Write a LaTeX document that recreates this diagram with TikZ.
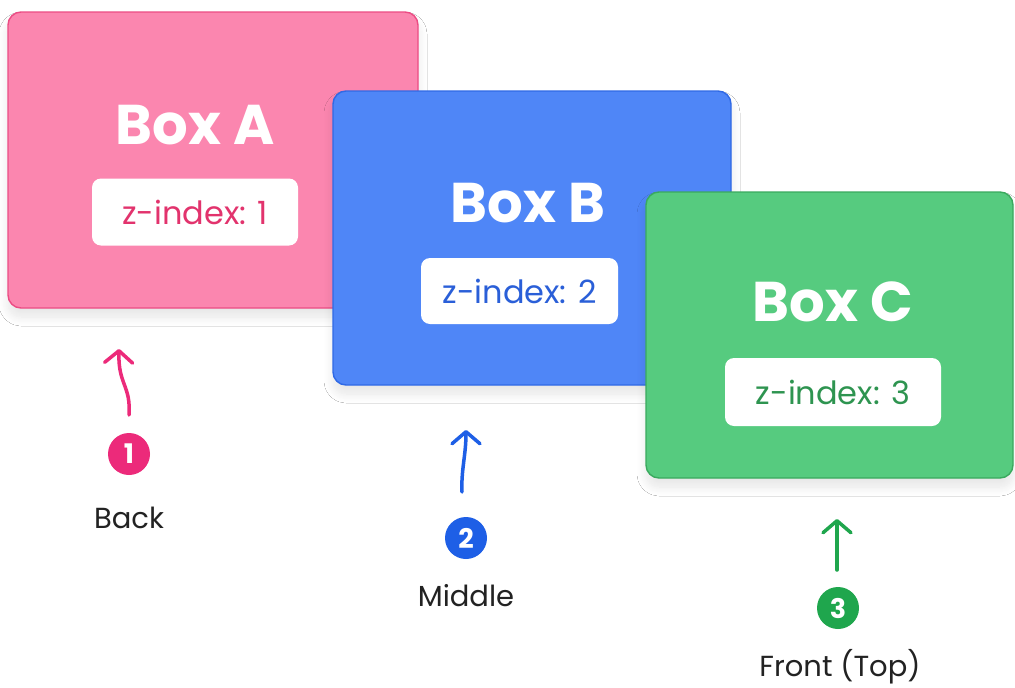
\documentclass[tikz,border=0pt]{standalone}
\usepackage{fontspec}
\setmainfont{Poppins}
\usetikzlibrary{arrows.meta,shadows.blur}
\definecolor{pinkfill}{HTML}{FB86AF}
\definecolor{pinkline}{HTML}{EC4C84}
\definecolor{pinktext}{HTML}{E2336D}
\definecolor{pinkdot}{HTML}{EC2A7A}
\definecolor{bluefill}{HTML}{4F86F7}
\definecolor{blueline}{HTML}{2F69E6}
\definecolor{bluetext}{HTML}{2A5FD8}
\definecolor{bluedot}{HTML}{1E5FE6}
\definecolor{greenfill}{HTML}{56CB7F}
\definecolor{greenline}{HTML}{3AAA5E}
\definecolor{greentext}{HTML}{2E9450}
\definecolor{greendot}{HTML}{1FA64D}
\definecolor{labelgray}{HTML}{222222}
\begin{document}
\begin{tikzpicture}[x=1pt,y=-1pt,
  zbox/.style={rectangle, rounded corners=13pt, line width=1.4pt, inner sep=0pt,
    blur shadow={shadow xshift=0pt, shadow yshift=-9pt, shadow blur steps=10, shadow opacity=10, shadow blur radius=9pt}},
  boxtitle/.style={text=white, font=\fontsize{56}{60}\selectfont\bfseries, inner sep=0pt},
  pill/.style={fill=white, rounded corners=9pt, minimum width=206pt, minimum height=67pt, inner sep=0pt,
    font=\fontsize{32}{36}\selectfont},
  num/.style={circle, minimum size=42pt, inner sep=0pt, text=white, font=\fontsize{27}{29}\selectfont\bfseries},
  lbl/.style={text=labelgray, font=\fontsize{29}{32}\selectfont, inner sep=0pt},
  arr/.style={line width=3.5pt, line cap=round, -{Straight Barb[length=12pt,width=28pt,line cap=round,line join=round]}}
]
\useasboundingbox (0,0) rectangle (1015,688);
\fill[white] (0,0) rectangle (1015,688);

% Box A
\node[zbox, fill=pinkfill, draw=pinkline, minimum width=410pt, minimum height=296pt] (A) at (213,160) {};
\node[boxtitle] (tA) at (195,125) {Box A};
\node[pill, text=pinktext] (pA) at (195,212) {z-index: 1};

% Box B
\node[zbox, fill=bluefill, draw=blueline, minimum width=398pt, minimum height=294pt] (B) at (532,238) {};
\node[boxtitle] (tB) at (528,203) {Box B};
\node[pill, text=bluetext, minimum width=197pt, minimum height=66pt] (pB) at (519.5,291) {z-index: 2};

% Box C
\node[zbox, fill=greenfill, draw=greenline, minimum width=367pt, minimum height=286pt] (C) at (829.5,335) {};
\node[boxtitle] (tC) at (833,302) {Box C};
\node[pill, text=greentext, minimum width=216pt, minimum height=68pt] (pC) at (833,392) {z-index: 3};

% Markers
\node[num, fill=pinkdot] (n1) at (129,454) {1};
\node[lbl] (l1) at (129,518) {Back};
\coordinate (s1) at (129,415);
\coordinate (e1) at (119,349);
\draw[arr, pinkdot] (s1) .. controls (131,385) and (118,385) .. (e1);

\node[num, fill=bluedot] (n2) at (466,538) {2};
\node[lbl] (l2) at (466,596) {Middle};
\coordinate (s2) at (462,492);
\coordinate (e2) at (466,430);
\draw[arr, bluedot] (s2) .. controls (461,470) and (466,455) .. (e2);

\node[num, fill=greendot] (n3) at (838,608) {3};
\node[lbl] (l3) at (840,667) {Front (Top)};
\coordinate (s3) at (837,570);
\coordinate (e3) at (837,519);
\draw[arr, greendot] (s3) -- (e3);
\end{tikzpicture}
\end{document}
